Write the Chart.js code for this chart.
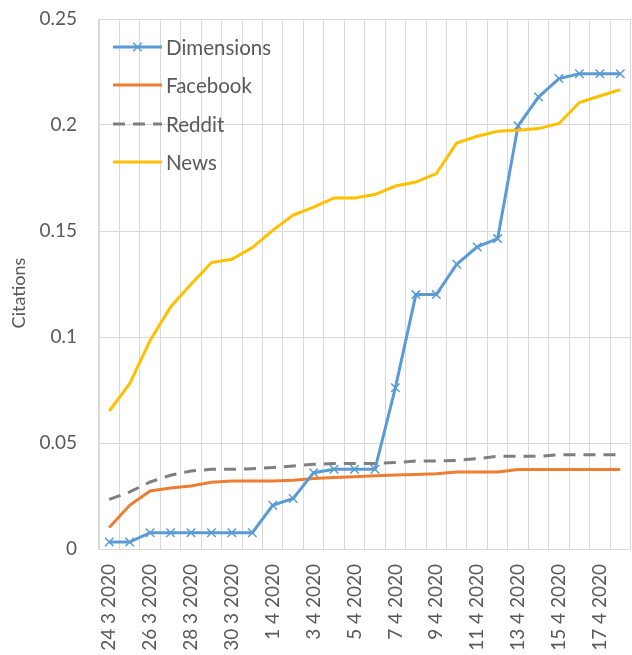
<!DOCTYPE html>
<html><head><meta charset="utf-8">
<script src="https://cdn.jsdelivr.net/npm/chart.js@4"></script>
<style>
html,body{margin:0;padding:0;overflow:hidden;background:#fff;width:632px;height:655px}
#wrap{position:relative;width:640px;height:655px}
canvas{display:block}
</style>
</head><body><div id="wrap"><canvas id="c" width="638" height="655"></canvas></div>
<script>
const categories = ["24 3 2020","25 3 2020","26 3 2020","27 3 2020","28 3 2020","29 3 2020","30 3 2020","31 3 2020",
  "1 4 2020","2 4 2020","3 4 2020","4 4 2020","5 4 2020","6 4 2020","7 4 2020","8 4 2020","9 4 2020","10 4 2020",
  "11 4 2020","12 4 2020","13 4 2020","14 4 2020","15 4 2020","16 4 2020","17 4 2020","18 4 2020"];
const dimensions = [0.0033,0.0033,0.0077,0.0077,0.0077,0.0077,0.0077,0.0077,0.0206,0.0238,0.036,0.0376,0.0376,0.0376,
  0.0761,0.120,0.120,0.1343,0.1425,0.1464,0.1996,0.2132,0.2219,0.2242,0.2242,0.2242];
const facebook = [0.0101,0.0206,0.0274,0.0288,0.0297,0.0315,0.0321,0.0321,0.0321,0.0324,0.0332,0.0337,0.0341,0.0346,
  0.0349,0.0352,0.0355,0.0363,0.0363,0.0363,0.0375,0.0375,0.0375,0.0375,0.0375,0.0375];
const reddit = [0.0234,0.0269,0.0316,0.0348,0.0368,0.0376,0.0376,0.0379,0.0384,0.0392,0.040,0.0403,0.0403,0.0403,
  0.0408,0.0415,0.0415,0.0418,0.0426,0.0437,0.0437,0.0437,0.0445,0.0445,0.0445,0.0445];
const news = [0.0651,0.078,0.0984,0.1142,0.1249,0.1351,0.1367,0.1422,0.1503,0.1575,0.1613,0.1656,0.1656,0.1672,
  0.1712,0.1731,0.1771,0.1915,0.1947,0.197,0.1975,0.1983,0.2007,0.2106,0.2137,0.2167];
const yTicks = [0,0.05,0.1,0.15,0.2,0.25];
const seriesNames = ["Dimensions","Facebook","Reddit","News"];

const TXT = '#595959';
const FONT = 'Lato';
const COLORS = {Dimensions:'#5B9BD5', Facebook:'#ED7D31', Reddit:'#7F7F7F', News:'#FFC000'};

const legendPlugin = {
  id: 'customLegend',
  afterDraw(chart) {
    const ctx = chart.ctx;
    ctx.save();
    // y axis title
    ctx.save();
    ctx.translate(19, 293);
    ctx.rotate(-Math.PI/2);
    ctx.fillStyle = TXT;
    ctx.font = '18px ' + FONT;
    ctx.textAlign = 'center';
    ctx.textBaseline = 'middle';
    ctx.fillText('Citations', 0, 0);
    ctx.restore();
    // legend
    const rows = [47, 85, 124, 162];
    seriesNames.forEach((name, i) => {
      const y = rows[i];
      const ds = chart.data.datasets[i];
      ctx.save();
      ctx.strokeStyle = ds.borderColor;
      ctx.lineWidth = 3;
      ctx.setLineDash(ds.borderDash || []);
      ctx.beginPath();
      ctx.moveTo(113, y);
      ctx.lineTo(162, y);
      ctx.stroke();
      ctx.setLineDash([]);
      if (name === 'Dimensions') {
        ctx.lineWidth = 1.5;
        const r = 6;
        ctx.beginPath();
        ctx.moveTo(137.5 - r*0.707, y - r*0.707); ctx.lineTo(137.5 + r*0.707, y + r*0.707);
        ctx.moveTo(137.5 + r*0.707, y - r*0.707); ctx.lineTo(137.5 - r*0.707, y + r*0.707);
        ctx.stroke();
      }
      ctx.fillStyle = TXT;
      ctx.font = '20.5px ' + FONT;
      ctx.textAlign = 'left';
      ctx.textBaseline = 'middle';
      ctx.fillText(name, 166, y + 1);
      ctx.restore();
    });
    ctx.restore();
  }
};

new Chart(document.getElementById('c'), {
  type: 'line',
  data: {
    labels: categories,
    datasets: [
      {label: seriesNames[0], data: dimensions, borderColor: COLORS.Dimensions, backgroundColor: COLORS.Dimensions,
       borderWidth: 3, pointStyle: 'crossRot', pointRadius: 6, pointBorderWidth: 1.5, pointBorderColor: COLORS.Dimensions, tension: 0, order: 1},
      {label: seriesNames[1], data: facebook, borderColor: COLORS.Facebook, borderWidth: 3, pointRadius: 0, tension: 0, order: 3},
      {label: seriesNames[2], data: reddit, borderColor: COLORS.Reddit, borderWidth: 3, borderDash: [12, 8], pointRadius: 0, tension: 0, order: 2},
      {label: seriesNames[3], data: news, borderColor: COLORS.News, borderWidth: 3, pointRadius: 0, tension: 0, order: 0}
    ]
  },
  options: {
    responsive: false,
    animation: false,
    layout: {padding: {top: 19, left: 0, right: 0, bottom: 0}},
    plugins: {legend: {display: false}, tooltip: {enabled: false}},
    scales: {
      x: {
        type: 'category',
        offset: true,
        grid: {offset: true, color: '#D9D9D9', lineWidth: 1, drawTicks: false},
        border: {color: '#D9D9D9', width: 1},
        ticks: {
          autoSkip: false, maxRotation: 90, minRotation: 90, padding: 15,
          color: TXT, font: {family: FONT, size: 19},
          callback: (v, i) => (i % 2 === 0 ? categories[i] : '')
        },
        afterFit: s => { s.height = 106; s.paddingLeft = 0; s.paddingRight = 0; }
      },
      y: {
        min: 0, max: 0.25,
        afterBuildTicks: s => { s.ticks = yTicks.map(v => ({value: v})); },
        grid: {color: '#D9D9D9', lineWidth: 1, drawTicks: false},
        border: {color: '#D9D9D9', width: 1},
        ticks: {
          padding: 22, color: TXT, font: {family: FONT, size: 19},
          callback: v => String(+Number(v).toFixed(2))
        },
        afterFit: s => { s.width = 99; s.paddingTop = 0; s.paddingBottom = 0; }
      }
    }
  },
  plugins: [legendPlugin]
});
</script>
</body></html>
